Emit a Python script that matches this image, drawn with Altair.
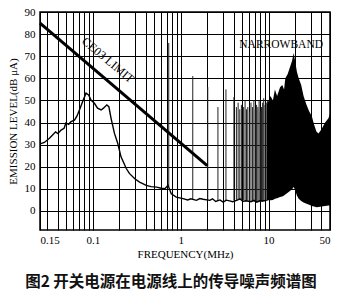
import altair as alt
import pandas as pd

# ---------------- data ----------------
# broadband conducted-noise curve (MHz, dB uA)
bb_freq = [0.0256, 0.028, 0.0318, 0.035, 0.0376, 0.040, 0.0434, 0.047, 0.0493, 0.053, 0.0564,
           0.0617, 0.066, 0.0703, 0.0765, 0.0835, 0.0894, 0.0952, 0.104, 0.113, 0.124, 0.132,
           0.144, 0.152, 0.161, 0.176, 0.192, 0.209, 0.24, 0.26, 0.30, 0.34, 0.405, 0.46,
           0.53, 0.6, 0.66, 0.716, 0.78, 0.89, 1.06, 1.2, 1.3, 1.51, 1.65, 1.8, 2.14, 2.3,
           2.5, 2.8, 3.04, 3.3, 3.6, 3.9, 4.33, 4.73, 5.1, 5.5, 6.3, 6.8, 7.33, 8.0, 8.5, 9.5]
bb_db = [30.5, 31.0, 32.8, 34.5, 35.8, 35.0, 36.6, 37.4, 39.8, 39.2, 40.4,
         41.1, 43.0, 45.7, 49.5, 53.3, 52.5, 50.2, 48.7, 46.5, 45.7, 46.5,
         48.0, 47.2, 41.9, 35.1, 30.5, 24.5, 19.2, 17.0, 14.6, 13.1, 11.6, 11.0,
         10.8, 10.3, 10.1, 11.6, 7.8, 6.3, 5.6, 5.0, 5.5, 4.8, 5.6, 5.3, 4.8, 5.5,
         4.3, 5.0, 4.0, 4.9, 4.6, 4.2, 4.8, 5.5, 4.3, 4.6, 4.2, 4.8, 4.0, 4.7, 4.5, 4.8]

# CE03 limit line
limit_freq = [0.025, 2.0]
limit_db = [85.0, 20.5]

# narrowband spikes below 10 MHz
spike_freq = [0.73, 1.37, 2.03, 2.65, 3.27, 4.03, 4.3, 4.5, 4.7, 4.9, 5.2, 5.4, 5.6, 5.8,
              6.05, 6.3, 6.55, 6.8, 7.05, 7.3, 7.55, 7.8, 8.05, 8.3, 8.55, 8.8, 9.1, 9.4, 9.7]
spike_db = [76, 61, 56, 47, 55, 51.5, 47, 49, 46, 48, 47, 50, 46, 47,
            45, 49, 47, 50, 46, 48, 47, 50, 45, 47, 49, 51, 48, 49, 50]
spike_base = [11, 5, 5, 4.5, 4.5, 4.8, 5, 5, 5, 5, 4.8, 4.8, 4.6, 4.6,
              4.4, 4.4, 4.3, 4.2, 4.1, 4.1, 4.0, 4.0, 4.1, 4.2, 4.3, 4.4, 4.5, 4.6, 4.7]

# dense narrowband region (upper and lower edge)
nb_freq = [9.6, 10.0, 10.5, 11.2, 11.8, 12.5, 13.5, 14.3, 15.0, 15.5, 16.5, 17.5, 18.5,
           19.3, 20.0, 21.0, 22.0, 23.5, 25.0, 27.0, 29.0, 31.0, 33.0, 35.0, 37.0, 40.0,
           44.0, 48.0, 50.0]
nb_top = [48, 50, 52, 50, 55, 52, 56, 57, 55, 60, 62, 65, 68,
          71.5, 68, 63, 60, 57, 52, 48, 45, 43, 39, 36, 35, 37,
          40, 42, 44]
nb_bottom = [4.8, 4.8, 4.8, 5.0, 5.5, 5.8, 6.3, 6.6, 7.0, 7.5, 8.3, 9.0, 9.8,
             10.8, 9.5, 7.0, 5.5, 4.5, 3.8, 3.3, 2.8, 2.3, 2.0, 1.7, 1.8, 2.0,
             2.3, 2.5, 2.5]

# annotations
ann_text = ["CE03 LIMIT", "NARROWBAND"]
ann_freq = [0.1486, 13.9]
ann_db = [68.3, 75.2]

# axis ticks / grid
grid_x = [0.025, 0.03, 0.04, 0.05, 0.06, 0.07, 0.08, 0.09,
          0.1, 0.2, 0.3, 0.4, 0.5, 0.6, 0.7, 0.8, 0.9,
          1, 2, 3, 4, 5, 6, 7, 8, 9,
          10, 20, 30, 40, 50]
y_ticks = [0, 10, 20, 30, 40, 50, 60, 70, 80, 90]

SERIF = "Liberation Serif"

label_expr = ("datum.value == 0.025 ? '0.15' : datum.value == 0.1 ? '0.1' : "
              "datum.value == 1 ? '1' : datum.value == 10 ? '10' : "
              "datum.value == 50 ? '50' : ''")

xscale = alt.Scale(type="log", domain=[0.025, 50])
yscale = alt.Scale(domain=[-8.6, 90], nice=False, zero=False)

xaxis = alt.Axis(values=grid_x, labelExpr=label_expr, labelOverlap=False, labelBound=False,
                 labelPadding=4, ticks=False, domain=False, grid=True, gridColor="black",
                 gridWidth=1, gridOpacity=1, title="FREQUENCY(MHz)", titlePadding=3)
yaxis = alt.Axis(values=y_ticks, labelPadding=5, ticks=False, domain=False, grid=True,
                 gridColor="black", gridWidth=1.2, gridOpacity=1,
                 title="EMISSION LEVEL(dB μA)", titlePadding=6)

X = lambda f: alt.X(f"{f}:Q", scale=xscale, axis=xaxis)
Y = lambda f: alt.Y(f"{f}:Q", scale=yscale, axis=yaxis)

bb = pd.DataFrame({"f": bb_freq, "db": bb_db})
lim = pd.DataFrame({"f": limit_freq, "db": limit_db})
sp = pd.DataFrame({"f": spike_freq, "db": spike_db, "base": spike_base})
nb = pd.DataFrame({"f": nb_freq, "top": nb_top, "bottom": nb_bottom})
ann = pd.DataFrame({"t": ann_text, "f": ann_freq, "db": ann_db})

spikes = alt.Chart(sp).mark_rule(color="#222", strokeWidth=1).encode(
    x=X("f"), y=Y("db"), y2="base:Q")
area = alt.Chart(nb).mark_area(color="black", interpolate="linear").encode(
    x=X("f"), y=Y("top"), y2="bottom:Q")
line = alt.Chart(bb).mark_line(color="black", strokeWidth=1.4).encode(
    x=X("f"), y=Y("db"))
limit = alt.Chart(lim).mark_line(color="black", strokeWidth=3).encode(
    x=X("f"), y=Y("db"))
label_lim = alt.Chart(ann.iloc[[0]]).mark_text(
    font=SERIF, fontSize=12, color="black", angle=40, align="center", baseline="middle"
).encode(x=X("f"), y=Y("db"), text="t:N")
label_nb = alt.Chart(ann.iloc[[1]]).mark_text(
    font=SERIF, fontSize=11.5, color="black", align="center", baseline="middle"
).encode(x=X("f"), y=Y("db"), text="t:N")

chart = alt.layer(spikes, area, line, limit, label_lim, label_nb).properties(
    width=290, height=218,
    padding={"left": 40, "top": 12, "right": 18, "bottom": 64},
    autosize=alt.AutoSizeParams(type="none"),
    title=alt.TitleParams("图2  开关电源在电源线上的传导噪声频谱图", orient="bottom",
                          anchor="middle", dx=-14, offset=16,
                          font="Noto Sans CJK SC", fontSize=15.5, fontWeight="bold",
                          color="#111"),
    background="white",
).configure_view(stroke="black", strokeWidth=1.5).configure_axis(
    labelFont=SERIF, labelFontSize=11, labelColor="black",
    titleFont=SERIF, titleFontSize=11, titleFontWeight="normal", titleColor="black"
)

chart.save("out.html", embed_options={"renderer": "svg", "actions": False})
